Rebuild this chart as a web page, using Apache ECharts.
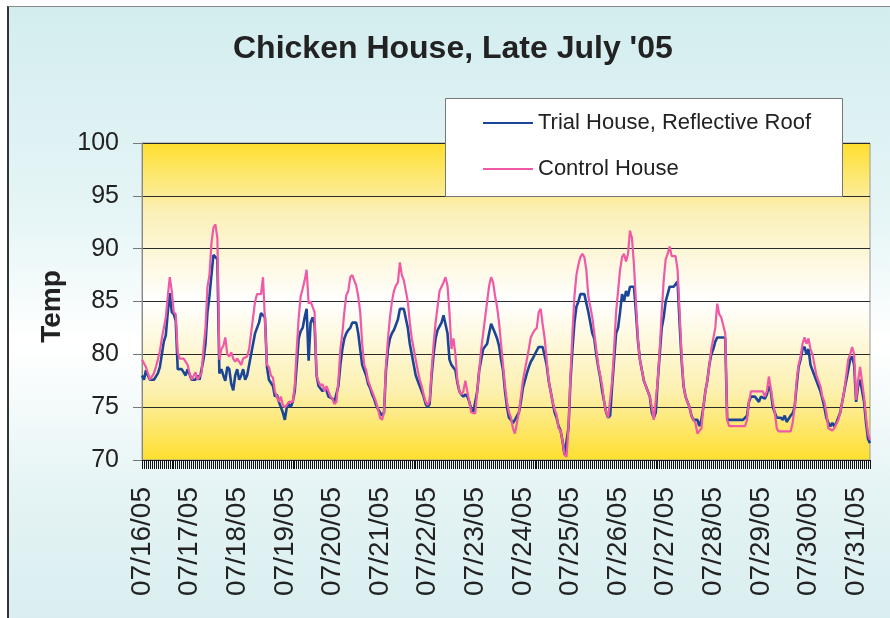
<!DOCTYPE html>
<html>
<head>
<meta charset="utf-8">
<title>Chicken House, Late July '05</title>
<script src="https://cdn.jsdelivr.net/npm/echarts@6/dist/echarts.min.js"></script>
<style>
  html, body { margin: 0; padding: 0; background: #fff; }
  #frame {
    position: absolute; left: 7px; top: 6px; width: 900px; height: 700px;
    border-top: 1px solid #8a8a8a; border-left: 2px solid #333;
    background: linear-gradient(to bottom, #d3edef 0%, #e6f5f6 30%, #ffffff 48%, #e4f3f4 70%, #d2ebed 100%);
  }
  #chart { position: absolute; left: 0; top: 0; width: 890px; height: 618px; }
</style>
</head>
<body>
<div id="frame"></div>
<div id="chart"></div>
<script>
// dates shown on the axis, one per day (readings are hourly)
var days = ['07/16/05', '07/17/05', '07/18/05', '07/19/05', '07/20/05', '07/21/05', '07/22/05', '07/23/05',
            '07/24/05', '07/25/05', '07/26/05', '07/27/05', '07/28/05', '07/29/05', '07/30/05', '07/31/05'];

// Trial House, Reflective Roof (one row per day, hourly)
var trialHouse = [
  78.0, 77.6, 78.5, 78.0, 77.6, 77.6, 77.6, 77.6, 78.2, 78.8, 80.0, 81.2, 81.8, 84.0, 85.8, 84.0, 83.8, 83.2, 78.6, 78.6, 78.6, 78.6, 78.0, 78.6,
  78.6, 77.6, 77.6, 77.6, 78.0, 77.6, 77.6, 79.5, 81.0, 84.0, 85.5, 87.5, 89.4, 89.4, 89.0, 78.2, 78.6, 78.0, 77.5, 78.8, 78.6, 77.2, 76.6, 78.0,
  78.6, 77.6, 78.0, 78.6, 77.6, 78.0, 79.0, 80.0, 81.0, 82.0, 82.5, 83.0, 83.9, 83.9, 83.5, 78.8, 77.6, 77.6, 77.0, 76.0, 76.2, 75.5, 75.0, 74.5,
  73.8, 75.0, 75.3, 75.0, 75.5, 76.5, 79.0, 81.5, 82.2, 82.5, 83.5, 84.3, 79.4, 83.0, 83.5, 82.8, 78.0, 77.0, 77.0, 76.5, 76.8, 76.6, 76.0, 76.0,
  75.8, 75.5, 75.5, 77.0, 79.0, 80.5, 81.5, 82.0, 82.3, 82.5, 83.0, 83.0, 83.0, 82.0, 80.5, 79.0, 78.5, 78.0, 77.2, 76.8, 76.2, 75.8, 75.2, 74.8,
  74.5, 74.2, 74.5, 78.5, 80.5, 81.5, 82.0, 82.3, 82.8, 83.3, 84.3, 84.3, 84.3, 84.3, 82.5, 81.0, 80.0, 79.0, 78.0, 77.5, 77.0, 76.5, 76.0, 75.3,
  75.0, 75.3, 78.0, 80.0, 81.5, 82.3, 82.3, 83.0, 83.7, 83.7, 82.0, 79.5, 79.0, 79.0, 78.5, 77.3, 76.5, 76.2, 76.0, 76.2, 76.0, 75.5, 74.8, 74.5,
  74.5, 76.5, 78.5, 79.5, 80.5, 80.5, 81.0, 82.0, 82.9, 82.9, 82.0, 81.5, 80.8, 79.5, 78.5, 76.5, 75.0, 74.0, 73.8, 73.5, 73.8, 73.8, 74.5, 75.5,
  76.8, 77.5, 78.2, 78.8, 79.3, 79.6, 80.0, 80.0, 80.7, 80.7, 80.7, 80.7, 79.0, 77.5, 76.5, 75.5, 74.5, 74.0, 73.2, 72.8, 71.8, 70.5, 70.5, 73.0,
  77.5, 80.5, 83.0, 84.5, 85.0, 85.7, 85.7, 85.7, 85.7, 84.0, 83.0, 82.0, 81.5, 80.0, 78.8, 77.8, 76.5, 75.5, 74.5, 74.0, 74.2, 77.0, 79.5, 82.0,
  82.5, 84.0, 85.7, 85.0, 86.0, 85.5, 86.4, 86.4, 86.4, 84.0, 81.3, 79.5, 78.5, 77.5, 77.0, 76.5, 76.0, 74.5, 74.0, 74.5, 77.5, 80.0, 82.5, 83.5,
  85.0, 85.7, 86.4, 86.4, 86.4, 86.4, 86.9, 83.0, 79.5, 77.0, 76.0, 75.5, 75.0, 74.2, 73.8, 73.8, 73.8, 73.2, 73.8, 75.0, 76.5, 77.5, 79.0, 80.0,
  80.5, 81.2, 81.6, 81.6, 81.6, 81.6, 81.6, 73.8, 73.8, 73.8, 73.8, 73.8, 73.8, 73.8, 73.8, 73.8, 73.8, 74.2, 75.5, 76.0, 76.0, 76.0, 76.0, 75.5,
  76.0, 76.0, 75.8, 76.2, 77.0, 76.5, 75.0, 74.5, 74.0, 74.0, 74.0, 73.8, 74.2, 73.6, 73.6, 74.2, 74.4, 75.0, 77.0, 78.8, 79.5, 80.5, 80.7, 80.0,
  80.5, 79.0, 78.5, 78.0, 77.5, 77.0, 76.5, 75.8, 75.0, 74.0, 73.5, 73.2, 73.5, 73.2, 73.5, 74.0, 74.5, 75.5, 76.5, 77.5, 78.5, 79.5, 79.8, 79.0,
  75.5, 77.0, 77.6, 77.6, 75.5, 73.5, 72.0, 71.6
];

// Control House (one row per day, hourly)
var controlHouse = [
  79.5, 79.5, 78.8, 78.2, 77.6, 77.6, 78.2, 78.8, 79.5, 80.3, 81.5, 82.5, 83.5, 85.5, 87.3, 86.0, 84.0, 83.8, 80.2, 79.6, 79.6, 79.6, 79.6, 79.0,
  78.2, 77.6, 77.6, 78.3, 77.6, 77.6, 78.2, 80.5, 82.5, 86.4, 87.5, 90.5, 92.0, 92.3, 91.0, 79.5, 80.5, 80.8, 81.6, 80.0, 79.8, 80.2, 79.6, 79.3,
  79.6, 79.6, 79.0, 79.6, 79.6, 79.8, 80.5, 82.0, 83.5, 85.0, 85.7, 85.7, 85.7, 87.3, 87.3, 79.0, 78.8, 78.0, 77.8, 76.5, 76.0, 75.5, 76.0, 75.2,
  75.0, 75.2, 75.5, 75.5, 75.5, 77.0, 80.5, 83.5, 85.5, 86.2, 87.0, 88.0, 84.8, 85.0, 84.5, 84.0, 78.0, 77.4, 77.0, 77.2, 76.5, 77.0, 76.5, 76.0,
  75.8, 75.3, 75.5, 77.5, 80.5, 82.0, 84.0, 85.6, 86.0, 87.3, 87.5, 87.0, 86.5, 85.5, 84.0, 81.0, 79.0, 78.5, 77.5, 77.0, 76.5, 76.0, 75.5, 74.8,
  74.0, 73.8, 74.5, 79.0, 81.5, 83.5, 85.0, 86.0, 86.5, 86.8, 88.7, 87.5, 87.0, 87.0, 85.0, 83.0, 81.5, 80.5, 79.5, 78.5, 77.6, 77.0, 76.2, 75.5,
  75.2, 75.6, 78.5, 81.0, 83.0, 84.5, 86.0, 86.0, 86.8, 87.3, 86.5, 84.0, 80.5, 81.5, 80.0, 77.5, 76.5, 76.2, 76.5, 77.5, 77.5, 75.5, 74.5, 74.4,
  74.4, 76.5, 78.5, 80.5, 82.0, 83.5, 85.0, 86.5, 87.3, 86.8, 85.5, 84.5, 83.0, 81.0, 79.0, 77.0, 75.5, 74.5, 74.0, 73.0, 72.5, 73.5, 74.5, 76.0,
  77.5, 78.5, 79.5, 80.5, 81.6, 82.0, 82.3, 82.5, 84.0, 84.3, 82.8, 81.5, 79.5, 77.5, 76.5, 75.5, 74.8, 74.3, 73.0, 72.8, 71.8, 70.5, 70.3, 73.0,
  78.0, 82.0, 85.5, 87.5, 88.5, 89.2, 89.5, 89.2, 88.0, 85.5, 84.5, 83.5, 82.0, 80.5, 79.0, 78.0, 77.0, 75.5, 74.5, 74.0, 74.0, 77.5, 80.5, 84.0,
  86.0, 88.0, 89.2, 89.5, 88.8, 89.5, 91.7, 91.0, 88.5, 85.0, 81.5, 79.5, 78.5, 77.5, 77.0, 76.5, 76.0, 75.0, 73.8, 73.8, 77.5, 80.5, 84.0, 87.0,
  89.0, 89.5, 90.2, 89.3, 89.3, 89.3, 88.0, 84.0, 80.0, 77.0, 76.0, 75.5, 75.0, 74.2, 73.8, 73.5, 72.5, 72.5, 73.0, 75.0, 76.5, 77.5, 79.0, 80.5,
  81.5, 82.5, 84.8, 83.8, 83.5, 83.5, 82.0, 73.8, 73.2, 73.2, 73.2, 73.2, 73.2, 73.2, 73.2, 73.2, 73.2, 73.8, 75.5, 76.5, 76.5, 76.5, 76.5, 76.5,
  76.5, 76.5, 76.0, 76.5, 77.9, 76.8, 75.5, 74.5, 73.0, 72.7, 72.7, 72.7, 72.7, 72.7, 72.7, 72.7, 73.5, 75.0, 77.5, 79.0, 79.8, 81.0, 81.6, 81.0,
  81.5, 80.5, 80.0, 79.0, 78.0, 77.5, 77.0, 76.0, 75.5, 74.5, 73.0, 73.0, 72.8, 73.0, 73.0, 73.8, 74.5, 75.5, 76.5, 78.0, 79.5, 80.0, 80.7, 80.0,
  75.7, 77.5, 78.8, 78.8, 76.0, 74.0, 72.5, 71.9
];

var yTicks = [70, 75, 80, 85, 90, 95, 100];

// hourly category labels built from the day list
var categories = [];
for (var d = 0; d < days.length; d++) {
    for (var h = 0; h < 24; h++) {
        if (categories.length < trialHouse.length) {
            categories.push(days[d] + ' ' + (h < 10 ? '0' + h : h) + ':00');
        }
    }
}

var font = "'Liberation Sans', Arial, sans-serif";
var blue = '#1b4697';
var pink = '#ef59a6';

var chart = echarts.init(document.getElementById('chart'), null, { renderer: 'canvas' });

var option = {
    animation: false,
    backgroundColor: 'transparent',
    title: {
        text: "Chicken House, Late July '05",
        left: 233,
        top: 33,
        padding: 0,
        textStyle: { fontFamily: font, fontWeight: 'bold', fontSize: 32, color: '#222' }
    },
    graphic: [{
        type: 'rect',
        z: 10,
        shape: { x: 445.5, y: 98.5, width: 397, height: 98 },
        style: { fill: '#fff', stroke: '#777', lineWidth: 1 }
    }],
    legend: {
        z: 11,
        orient: 'vertical',
        left: 483,
        top: 110,
        padding: 0,
        itemWidth: 50,
        itemHeight: 2,
        itemGap: 20,
        textStyle: { fontFamily: font, fontSize: 22, lineHeight: 26, color: '#222' },
        data: [
            { name: 'Trial House, Reflective Roof', icon: 'rect', itemStyle: { color: blue } },
            { name: 'Control House', icon: 'rect', itemStyle: { color: pink } }
        ]
    },
    grid: {
        left: 142, right: 20, top: 143, bottom: 158,
        show: true,
        borderColor: '#999',
        borderWidth: 1,
        backgroundColor: new echarts.graphic.LinearGradient(0, 0, 0, 1, [
            { offset: 0, color: '#ffdf2e' },
            { offset: 0.22, color: '#fbf0b8' },
            { offset: 0.5, color: '#ffffff' },
            { offset: 0.78, color: '#fcf0b0' },
            { offset: 1, color: '#ffdf2e' }
        ])
    },
    xAxis: {
        type: 'category',
        data: categories,
        boundaryGap: false,
        axisLine: { show: true, lineStyle: { color: '#222', width: 1 } },
        axisTick: { show: true, interval: 0, length: 9, lineStyle: { color: '#111', width: 1 } },
        axisLabel: {
            interval: function (i) { return i % 24 === 0; },
            formatter: function (v) { return v.slice(0, 8); },
            rotate: 90,
            margin: 27,
            fontFamily: font,
            fontSize: 28,
            color: '#222'
        },
        splitLine: { show: false }
    },
    yAxis: {
        type: 'value',
        min: yTicks[0],
        max: yTicks[yTicks.length - 1],
        interval: 5,
        name: 'Temp',
        nameLocation: 'middle',
        nameGap: 56,
        nameTextStyle: { fontFamily: font, fontWeight: 'bold', fontSize: 28, color: '#222', padding: [0, 10, 0, 0] },
        axisLine: { show: true, lineStyle: { color: '#888', width: 1 } },
        axisTick: { show: true, length: 9, lineStyle: { color: '#777' } },
        axisLabel: { margin: 23, fontFamily: font, fontSize: 25, color: '#222' },
        splitLine: { show: true, lineStyle: { color: '#2a2a2a', width: 1 } }
    },
    series: [{
        name: 'Trial House, Reflective Roof',
        type: 'line',
        data: trialHouse,
        symbol: 'none',
        silent: true,
        lineStyle: { color: blue, width: 2.6 },
        itemStyle: { color: blue }
    }, {
        name: 'Control House',
        type: 'line',
        data: controlHouse,
        symbol: 'none',
        silent: true,
        lineStyle: { color: pink, width: 2.2 },
        itemStyle: { color: pink }
    }]
};

chart.setOption(option);
</script>
</body>
</html>
